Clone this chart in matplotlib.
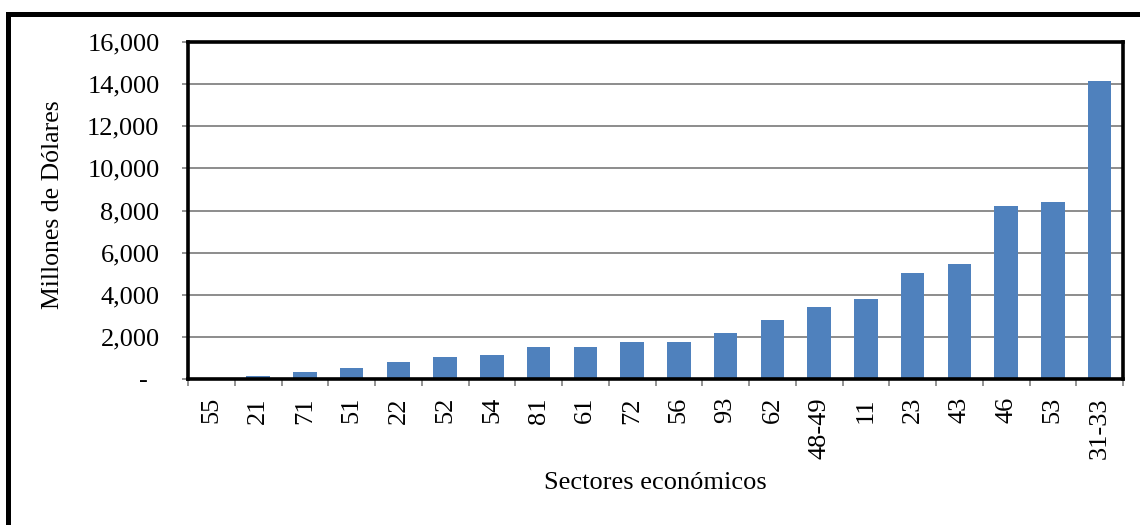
import matplotlib
matplotlib.use('Agg')
import matplotlib.pyplot as plt
import matplotlib.transforms as mtransforms
from matplotlib.lines import Line2D
import numpy as np

# %% DATA
sectors = ['55', '21', '71', '51', '22', '52', '54', '81', '61', '72',
           '56', '93', '62', '48-49', '11', '23', '43', '46', '53', '31-33']
values = [60, 140, 320, 510, 830, 1060, 1150, 1500, 1540, 1750,
          1750, 2180, 2820, 3420, 3820, 5050, 5480, 8230, 8420, 14150]
yticks = [0, 2000, 4000, 6000, 8000, 10000, 12000, 14000, 16000]
ylabels = ['-' if v == 0 else f'{v:,}' for v in yticks]

plt.rcParams['font.family'] = ['Liberation Serif', 'DejaVu Serif']

W, H = 1140, 525
fig = plt.figure(figsize=(W / 100, H / 100), dpi=100)
ax = fig.add_axes([188 / W, 1 - 379 / H, (1123 - 188) / W, (379 - 42) / H])

x = np.arange(len(sectors))
ax.bar(x, values, width=0.5, color='#4F81BD', zorder=3)

ax.set_xlim(-0.5, len(sectors) - 0.5)
ax.set_ylim(0, 16000)

# y axis
ax.set_yticks(yticks)
ax.set_yticklabels(ylabels, fontsize=19)
ax.tick_params(axis='y', direction='out', length=4.5, width=1.2,
               color='#808080', pad=16)
ax.grid(axis='y', color='#8C8C8C', linewidth=1.4, zorder=1)
# dash for zero sits a bit further left (accounting format)
lbl0 = ax.get_yticklabels()[0]
lbl0.set_transform(lbl0.get_transform() +
                   mtransforms.ScaledTranslation(-12 / 100, 0, fig.dpi_scale_trans))

# x axis: labels centered, tick marks at the category boundaries
ax.set_xticks(x)
ax.set_xticklabels(sectors, rotation=90, fontsize=19)
ax.tick_params(axis='x', which='major', length=0, pad=13)
ax.set_xticks(np.arange(-0.5, len(sectors)), minor=True)
ax.tick_params(axis='x', which='minor', direction='out', length=5,
               width=1.2, color='#808080')

for side in ['top', 'right', 'bottom', 'left']:
    ax.spines[side].set_color('black')
    ax.spines[side].set_linewidth(2.6)
    ax.spines[side].set_zorder(4)

fig.text(53 / W, 1 - 205 / H, 'Millones de Dólares', rotation=90,
         ha='center', va='center', fontsize=18.5)
fig.text(655.5 / W, 1 - 483 / H, 'Sectores económicos',
         ha='center', va='center', fontsize=19)

# outer chart frame (cut at right and bottom)
fig.add_artist(Line2D([7.5 / W, 7.5 / W], [-0.05, 1 - 13.5 / H],
                      transform=fig.transFigure, color='black', linewidth=3.6))
fig.add_artist(Line2D([7.5 / W, 1.05], [1 - 13.5 / H, 1 - 13.5 / H],
                      transform=fig.transFigure, color='black', linewidth=3.6))

fig.savefig('out.png', dpi=100)
